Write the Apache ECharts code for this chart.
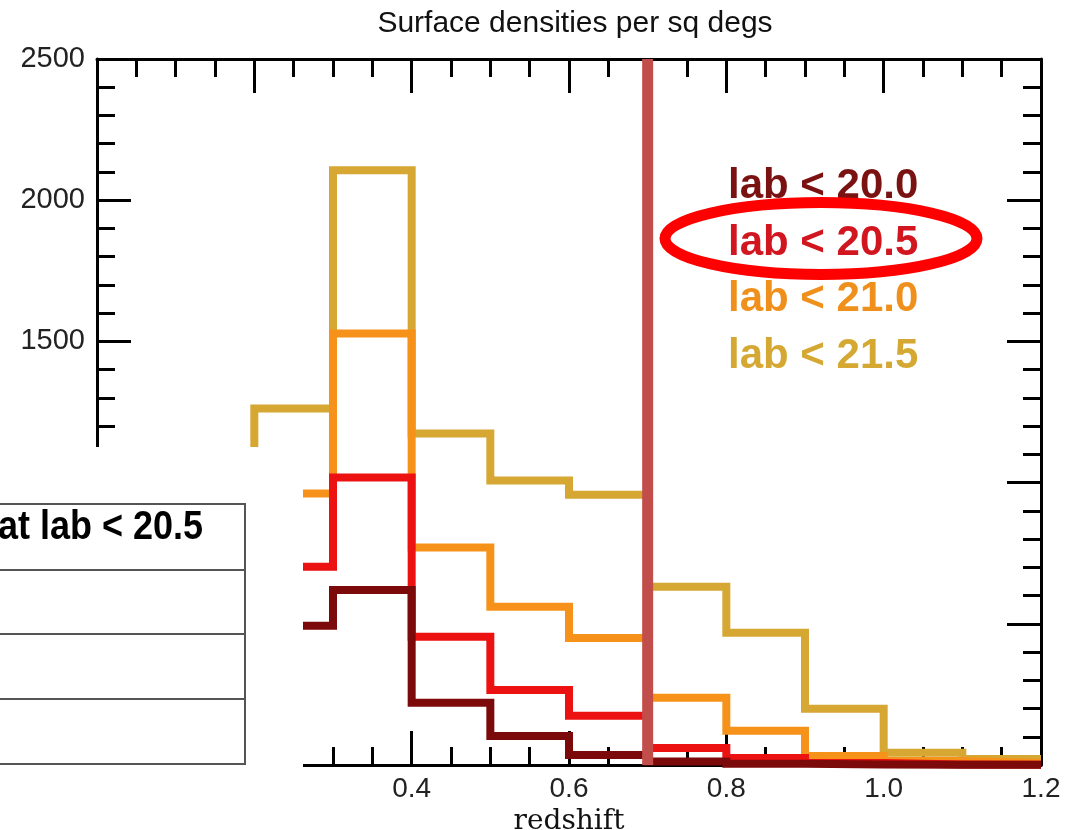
<!DOCTYPE html>
<html>
<head>
<meta charset="utf-8">
<script src="https://cdn.jsdelivr.net/npm/echarts@6/dist/echarts.min.js"></script>
<style>
  html, body { margin: 0; padding: 0; background: #fff; }
  #chart { width: 1074px; height: 830px; }
</style>
</head>
<body>
<div id="chart"></div>
<script>
// ---- data ----
const binEdges = [0.2, 0.3, 0.4, 0.5, 0.6, 0.7, 0.8, 0.9, 1.0, 1.1, 1.2];
const seriesNames = ['lab < 20.0', 'lab < 20.5', 'lab < 21.0', 'lab < 21.5'];
const lab200 = [493, 620, 220, 103, 35, 12, 4, 2, 1, 1];
const lab205 = [702, 1018, 454, 266, 174, 60, 25, 7, 2, 1];
const lab210 = [961, 1528, 770, 560, 450, 238, 121, 32, 14, 7];
const lab215 = [1262, 2106, 1174, 1007, 957, 631, 468, 199, 43, 21];
const redshiftCut = 0.7;
const xTicks = [0.0, 0.2, 0.4, 0.6, 0.8, 1.0, 1.2];
const yTicks = [0, 500, 1000, 1500, 2000, 2500];
const titleText = 'Surface densities per sq degs';
const xName = 'redshift';
const tableHeader = 'at lab < 20.5';

const lineColors = ['#7d0a0a', '#ec1212', '#f6921a', '#d6a733'];
const textColors = ['#7a1212', '#d2161f', '#f0901c', '#d4a832'];

function stepData(vals) {
  const d = [[binEdges[0], 0]];
  for (let i = 0; i < vals.length; i++) d.push([binEdges[i], vals[i]]);
  d.push([binEdges[binEdges.length - 1], vals[vals.length - 1]]);
  return d;
}

const allVals = [lab200, lab205, lab210, lab215];
const order = [3, 2, 1, 0]; // draw widest first
const series = order.map(i => ({
  name: seriesNames[i],
  type: 'line',
  step: 'end',
  showSymbol: false,
  symbol: 'none',
  silent: true,
  z: 2 + (3 - i) * 0.1,
  lineStyle: { color: lineColors[i], width: 8, join: 'miter', cap: 'butt' },
  data: stepData(allVals[i])
}));
series.push({
  name: 'cut',
  type: 'line',
  showSymbol: false,
  symbol: 'none',
  silent: true,
  z: 5,
  lineStyle: { color: '#c24e4b', width: 11, cap: 'butt' },
  data: [[redshiftCut, yTicks[0]], [redshiftCut, yTicks[yTicks.length - 1]]]
});

const tickStyle = { color: '#000', width: 3 };
const axisLine = { show: true, onZero: false, lineStyle: { color: '#000', width: 3 } };

const chart = echarts.init(document.getElementById('chart'), null, { renderer: 'canvas' });

const graphics = [];
// occluding white area (overlay of original)
graphics.push({ type: 'rect', z: 100, shape: { x: 0, y: 447, width: 303, height: 383 }, style: { fill: '#fff' } });
// table
graphics.push({ type: 'rect', z: 101, shape: { x: -5, y: 504, width: 250, height: 260 }, style: { fill: '#fff', stroke: '#555', lineWidth: 2 } });
[570, 634, 699].forEach(y => graphics.push({ type: 'line', z: 102, shape: { x1: -5, y1: y, x2: 245, y2: y }, style: { stroke: '#555', lineWidth: 2 } }));
graphics.push({ type: 'text', z: 103, x: 203, y: 528, scaleX: 0.9, scaleY: 1, originX: 0, originY: 0,
  style: { text: tableHeader, fill: '#000', font: 'bold 40px "Liberation Sans", Arial, sans-serif', textAlign: 'right', textVerticalAlign: 'middle' } });
// legend labels
const legendY = [186, 243, 299, 356];
seriesNames.forEach((n, i) => graphics.push({ type: 'text', z: 50, x: 728, y: legendY[i],
  style: { text: n, fill: textColors[i], font: 'bold 42px "Liberation Sans", Arial, sans-serif', textAlign: 'left', textVerticalAlign: 'middle' } }));
// highlight ellipse
graphics.push({ type: 'ellipse', z: 60, shape: { cx: 821, cy: 238.5, rx: 156, ry: 36 }, style: { fill: 'none', stroke: '#fe0000', lineWidth: 11 } });

chart.setOption({
  animation: false,
  backgroundColor: '#fff',
  title: {
    text: titleText, left: 570, top: 4, textAlign: 'center',
    textStyle: { fontFamily: '"Liberation Sans", Arial, sans-serif', fontWeight: 'normal', fontSize: 30, color: '#111' }
  },
  grid: { left: 97, top: 59, width: 944, height: 706, containLabel: false, outerBoundsMode: 'none' },
  xAxis: [{
    type: 'value', min: 0, max: 1.2, interval: 0.2, position: 'bottom',
    name: xName, nameLocation: 'middle', nameGap: 38,
    nameTextStyle: { fontFamily: '"DejaVu Serif", serif', fontSize: 28, color: '#111' },
    axisLine: axisLine,
    axisTick: { show: true, inside: true, length: 34, lineStyle: tickStyle },
    minorTick: { show: true, splitNumber: 4, length: 18, lineStyle: tickStyle },
    axisLabel: { margin: 10, fontSize: 28, color: '#222', fontFamily: '"Liberation Sans", Arial, sans-serif', formatter: v => v.toFixed(1) },
    splitLine: { show: false }
  }, {
    type: 'value', min: 0, max: 1.2, interval: 0.2, position: 'top',
    axisLine: axisLine,
    axisTick: { show: true, inside: true, length: 34, lineStyle: tickStyle },
    minorTick: { show: true, splitNumber: 4, length: 18, lineStyle: tickStyle },
    axisLabel: { show: false }, splitLine: { show: false }
  }],
  yAxis: [{
    type: 'value', min: 0, max: 2500, interval: 500, position: 'left',
    axisLine: axisLine,
    axisTick: { show: true, inside: true, length: 34, lineStyle: tickStyle },
    minorTick: { show: true, splitNumber: 5, length: 18, lineStyle: tickStyle },
    axisLabel: { margin: 12, fontSize: 29, color: '#222', fontFamily: '"Liberation Sans", Arial, sans-serif', formatter: v => String(v) },
    splitLine: { show: false }
  }, {
    type: 'value', min: 0, max: 2500, interval: 500, position: 'right',
    axisLine: axisLine,
    axisTick: { show: true, inside: true, length: 34, lineStyle: tickStyle },
    minorTick: { show: true, splitNumber: 5, length: 18, lineStyle: tickStyle },
    axisLabel: { show: false }, splitLine: { show: false }
  }],
  series: series,
  graphic: graphics
});
</script>
</body>
</html>
